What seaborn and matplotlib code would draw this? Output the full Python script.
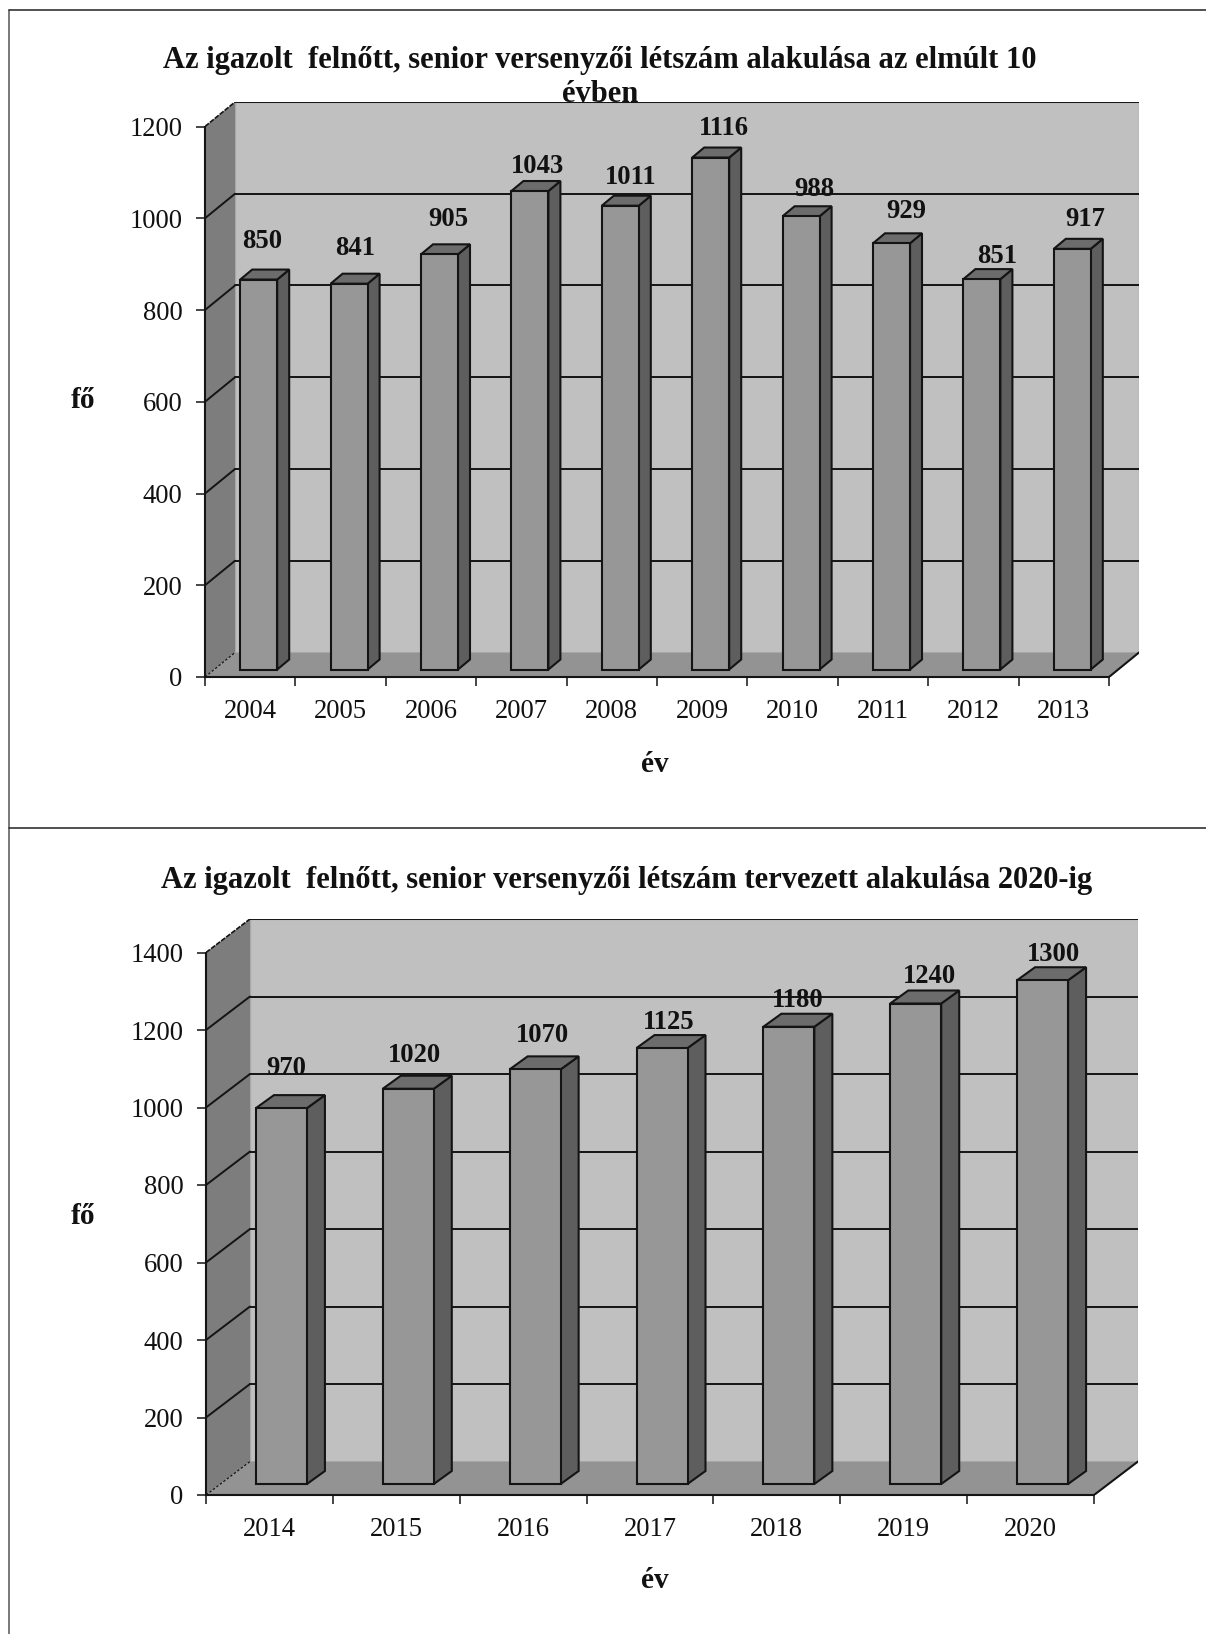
import matplotlib
matplotlib.use('Agg')
import matplotlib.pyplot as plt
import seaborn as sns
from matplotlib.lines import Line2D
from matplotlib.patches import Polygon

# values
years_top = ['2004', '2005', '2006', '2007', '2008', '2009', '2010', '2011', '2012', '2013']
counts_top = [850, 841, 905, 1043, 1011, 1116, 988, 929, 851, 917]
ticks_top = [0, 200, 400, 600, 800, 1000, 1200]
title_top = 'Az igazolt  felnőtt, senior versenyzői létszám alakulása az elmúlt 10\névben'

years_bottom = ['2014', '2015', '2016', '2017', '2018', '2019', '2020']
counts_bottom = [970, 1020, 1070, 1125, 1180, 1240, 1300]
ticks_bottom = [0, 200, 400, 600, 800, 1000, 1200, 1400]
title_bottom = 'Az igazolt  felnőtt, senior versenyzői létszám tervezett alakulása 2020-ig'

# hand placed value labels in the original, offset from the bar top centre (px)
label_dx_top = [3.5, 6.5, 8.5, 7.5, 10, 13, 13.5, 14.5, 15.5, 12.5]
label_dy_top = [38, 35, 35, 25, 28, 29, 27, 32, 23, 29]
label_dx_bottom = [4.5, 6.5, 7.5, 6.5, 8.5, 14, 10.5]
label_dy_bottom = [40, 33, 34, 26, 26.5, 27, 26]

W, H = 1206, 1634
SERIF = ['Liberation Serif', 'DejaVu Serif']
FONT = 19.2
INK = '#141414'

sns.set_theme(style='white')
plt.rcParams['font.family'] = SERIF

fig = plt.figure(figsize=(W / 100, H / 100), dpi=100, facecolor='white')


def px(v):
    return v * 0.72


def draw_panel(years, counts, ticks, title, title_xy, label_dx, label_dy, x0, x1, y0, top,
               depth_x, depth_y, bar_w, bar_shift, bar_lift, side_x, side_y,
               fo_xy, ev_xy):
    back_right = x1 + depth_x
    ax = fig.add_axes([x0 / W, 1 - y0 / H, (back_right - x0) / W, (y0 - top) / H])
    n = len(years)
    step = (x1 - x0) / n
    scale = (y0 - top - depth_y) / ticks[-1]

    # category 0 is the centre of the first bar, which sits behind the slot centre
    left = -0.5 - bar_shift / step
    right = left + n
    dx = depth_x / step
    dy = depth_y / scale
    ymax = ticks[-1]

    sns.barplot(x=years, y=counts, ax=ax, color='#979797', saturation=1, width=bar_w / step,
                edgecolor=INK, linewidth=1.5, bottom=bar_lift / scale, errorbar=None, zorder=3)

    # walls and floor
    ax.add_patch(Polygon([(left + dx, dy), (right + dx, dy), (right + dx, ymax + dy), (left + dx, ymax + dy)],
                         fc='#c0c0c0', ec='#a8a8a8', lw=1, zorder=0.2))
    ax.add_patch(Polygon([(left, 0), (left + dx, dy), (left + dx, ymax + dy), (left, ymax)],
                         fc='#7d7d7d', ec='none', zorder=0.3))
    ax.add_patch(Polygon([(left, 0), (right, 0), (right + dx, dy), (left + dx, dy)],
                         fc='#939393', ec='none', zorder=0.3))

    # gridlines, running up the side wall and across the back
    for t in ticks[1:]:
        ax.plot([left + dx, right + dx], [t + dy, t + dy], color=INK, lw=1.4, zorder=0.5)
        if t == ymax:
            ax.plot([left, left + dx], [t, t + dy], color=INK, lw=1.2, ls=(0, (3, 0.8)), zorder=0.5)
        else:
            ax.plot([left, left + dx], [t, t + dy], color=INK, lw=1.4, zorder=0.5)
    ax.plot([left, left + dx], [0, dy], color=INK, lw=0.9, ls=(0, (2, 1.5)), zorder=0.5)
    ax.plot([right, right + dx], [0, dy], color=INK, lw=1.5, zorder=0.5)

    # side and top faces worked out from the bars seaborn drew
    sx = side_x / step
    sy = side_y / scale
    for bar in list(ax.patches):
        if bar.get_zorder() != 3:
            continue
        bx, by = bar.get_x(), bar.get_y()
        bw, bh = bar.get_width(), bar.get_height()
        ax.add_patch(Polygon([(bx + bw, by), (bx + bw + sx, by + sy), (bx + bw + sx, by + bh + sy), (bx + bw, by + bh)],
                             fc='#5e5e5e', ec=INK, lw=1.5, zorder=2.9))
        ax.add_patch(Polygon([(bx, by + bh), (bx + bw, by + bh), (bx + bw + sx, by + bh + sy), (bx + sx, by + bh + sy)],
                             fc='#6c6c6c', ec=INK, lw=1.5, zorder=2.9))

    for i, v in enumerate(counts):
        ax.annotate(str(v), xy=(i, v + bar_lift / scale), xytext=(label_dx[i], label_dy[i]),
                    textcoords='offset pixels', ha='center', va='center', fontsize=FONT,
                    fontweight='bold', color='#111111', zorder=6, annotation_clip=False)

    ax.set_xlim(left, left + (back_right - x0) / step)
    ax.set_ylim(0, (y0 - top) / scale)
    ax.patch.set_visible(False)

    # axes
    for side in ['top', 'right']:
        ax.spines[side].set_visible(False)
    for side in ['left', 'bottom']:
        ax.spines[side].set_color(INK)
        ax.spines[side].set_linewidth(1.5)
        ax.spines[side].set_zorder(4)
    ax.spines['left'].set_bounds(0, ymax)
    ax.spines['bottom'].set_bounds(left, right)

    ax.set_yticks(ticks)
    ax.set_xticks([left + i for i in range(n + 1)], labels=[])
    ax.set_xticks([left + i + 0.5 for i in range(n)], labels=years, minor=True)
    ax.tick_params(axis='y', left=True, length=px(9.5), width=1.1, color=INK, pad=px(13),
                   labelsize=FONT, labelcolor='#111111')
    ax.tick_params(axis='x', which='major', bottom=True, length=px(9), width=1.1, color=INK)
    ax.tick_params(axis='x', which='minor', bottom=False, length=0, pad=px(22),
                   labelsize=FONT, labelcolor='#111111')

    ax.set_xlabel('év', fontsize=FONT + 2, fontweight='bold', color='#111111')
    ax.set_ylabel('fő', fontsize=FONT + 2, fontweight='bold', color='#111111', rotation=0, ha='center', va='center')
    ax.xaxis.set_label_coords((ev_xy[0] - x0) / (back_right - x0), (y0 - ev_xy[1]) / (y0 - top))
    ax.yaxis.set_label_coords((fo_xy[0] - x0) / (back_right - x0), (y0 - fo_xy[1]) / (y0 - top))
    ax.xaxis.label.set_va('center')

    fig.text(title_xy[0] / W, 1 - title_xy[1] / H, title, ha='center', va='top', fontsize=FONT + 2.8,
             fontweight='bold', color='#111111', linespacing=1.22)
    return ax


draw_panel(years_top, counts_top, ticks_top, title_top, (600, 46), label_dx_top, label_dy_top,
           x0=205, x1=1109, y0=677, top=102, depth_x=30, depth_y=24.5,
           bar_w=37, bar_shift=8.5, bar_lift=7.5, side_x=12, side_y=10,
           fo_xy=(83, 400), ev_xy=(655, 764))

draw_panel(years_bottom, counts_bottom, ticks_bottom, title_bottom, (627, 866), label_dx_bottom, label_dy_bottom,
           x0=206, x1=1094, y0=1495, top=919, depth_x=44, depth_y=33.5,
           bar_w=51, bar_shift=12, bar_lift=11, side_x=18, side_y=13,
           fo_xy=(83, 1216), ev_xy=(655, 1580))

# frame of the pasted charts
for xs, ys, col in [([9, 9], [10, H], '#555555'), ([9, W], [10, 10], '#222222'), ([9, W], [828, 828], '#222222')]:
    fig.add_artist(Line2D([x / W for x in xs], [1 - y / H for y in ys], color=col, lw=1.1))

fig.savefig('out.png', dpi=100)
